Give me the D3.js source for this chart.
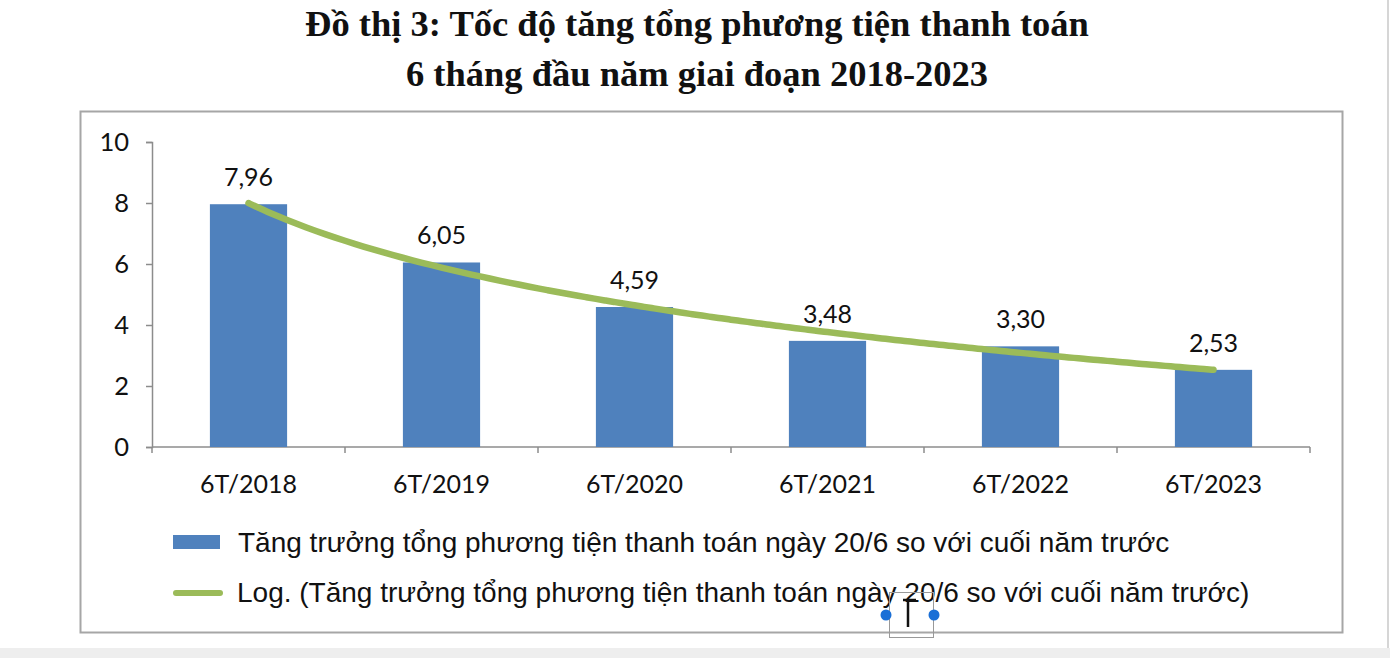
<!DOCTYPE html>
<html>
<head>
<meta charset="utf-8">
<script src="https://cdn.jsdelivr.net/npm/d3@7"></script>
<style>
  html, body { margin: 0; padding: 0; background: #fff; }
</style>
</head>
<body>
<div id="chart"></div>
<script>
// data
const categories = ["6T/2018", "6T/2019", "6T/2020", "6T/2021", "6T/2022", "6T/2023"];
const growth = [7.96, 6.05, 4.59, 3.48, 3.30, 2.53];
const yTicks = [0, 2, 4, 6, 8, 10];
const titleLines = ["Đồ thị 3: Tốc độ tăng tổng phương tiện thanh toán", "6 tháng đầu năm giai đoạn 2018-2023"];
const legendBar = "Tăng trưởng tổng phương tiện thanh toán ngày 20/6 so với cuối năm trước";
const legendLine = "Log. (Tăng trưởng tổng phương tiện thanh toán ngày 20/6 so với cuối năm trước)";

const CBAR = "#4F81BD";
const CTREND = "#9BBB59";
const CAXIS = "#8C8C8C";
const NUMFONT = "Lato, 'Open Sans', sans-serif";

const width = 1390, height = 658;
const plot = { left: 152, right: 1310, top: 142, bottom: 447 };

const svg = d3.select("#chart").append("svg")
    .attr("width", width)
    .attr("height", height)
    .attr("viewBox", [0, 0, width, height]);

// page edges
svg.append("line").attr("x1", 1388).attr("x2", 1388).attr("y1", 0).attr("y2", height)
    .attr("stroke", "#c8c8c8").attr("stroke-width", 1.5);
svg.append("rect").attr("x", 0).attr("y", 648).attr("width", width).attr("height", 10)
    .attr("fill", "#eeeeee");

// title
svg.append("g").selectAll("text")
    .data(titleLines)
    .join("text")
    .attr("x", 697)
    .attr("y", (d, i) => 36 + i * 50)
    .attr("text-anchor", "middle")
    .attr("font-family", "'Liberation Serif', 'Times New Roman', serif")
    .attr("font-weight", "bold")
    .attr("font-size", 36.5)
    .attr("fill", "#111")
    .text(d => d);

// chart box
svg.append("rect")
    .attr("x", 80.5).attr("y", 111.5)
    .attr("width", 1262).attr("height", 521)
    .attr("fill", "none")
    .attr("stroke", "#a6a6a6")
    .attr("stroke-width", 2);

// scales
const x = d3.scaleBand().domain(categories).range([plot.left, plot.right]).paddingInner(0.6).paddingOuter(0.3);
const xOuter = d3.scaleBand().domain(categories).range([plot.left, plot.right]);
const y = d3.scaleLinear().domain([0, 10]).range([plot.bottom, plot.top]);

// y axis
const yAxis = svg.append("g")
    .attr("transform", `translate(${plot.left},0)`)
    .call(d3.axisLeft(y).tickValues(yTicks).tickSize(6).tickPadding(17).tickFormat(d3.format("d")));
yAxis.select(".domain").attr("stroke", CAXIS).attr("stroke-width", 1.5);
yAxis.selectAll(".tick line").attr("stroke", CAXIS).attr("stroke-width", 1.5);
yAxis.selectAll(".tick text")
    .attr("font-family", NUMFONT)
    .attr("font-size", 25.5)
    .attr("fill", "#111");

// x axis with ticks at band boundaries
const xAxisG = svg.append("g").attr("transform", `translate(0,${plot.bottom})`);
xAxisG.append("line")
    .attr("x1", plot.left).attr("x2", plot.right)
    .attr("stroke", CAXIS).attr("stroke-width", 1.5);
const bounds = categories.map(c => xOuter(c)).concat([plot.right]);
xAxisG.selectAll(".xt")
    .data(bounds)
    .join("line")
    .attr("class", "xt")
    .attr("x1", d => d).attr("x2", d => d)
    .attr("y1", 0).attr("y2", 6)
    .attr("stroke", CAXIS).attr("stroke-width", 1.5);
xAxisG.selectAll(".xl")
    .data(categories)
    .join("text")
    .attr("class", "xl")
    .attr("x", d => xOuter(d) + xOuter.bandwidth() / 2)
    .attr("y", 46)
    .attr("text-anchor", "middle")
    .attr("font-family", NUMFONT)
    .attr("font-size", 25)
    .attr("fill", "#111")
    .text(d => d);

// bars
const data = categories.map((c, i) => ({ cat: c, value: growth[i], idx: i + 1 }));
svg.append("g")
    .selectAll("rect")
    .data(data)
    .join("rect")
    .attr("x", d => x(d.cat))
    .attr("y", d => y(d.value))
    .attr("width", x.bandwidth())
    .attr("height", d => y(0) - y(d.value))
    .attr("fill", CBAR);

// logarithmic trendline: least squares fit of value = a*ln(i) + b
const lnx = data.map(d => Math.log(d.idx));
const mx = d3.mean(lnx), my = d3.mean(growth);
const sxy = d3.sum(lnx, (v, i) => (v - mx) * (growth[i] - my));
const sxx = d3.sum(lnx, v => (v - mx) * (v - mx));
const a = sxy / sxx, b = my - a * mx;
const centerOf = t => {
    // position of fractional category index t (1-based)
    const c0 = xOuter(categories[0]) + xOuter.bandwidth() / 2;
    return c0 + (t - 1) * xOuter.step();
};
const trendPts = d3.range(1, 6.0001, 0.05).map(t => [centerOf(t), y(a * Math.log(t) + b)]);
svg.append("path")
    .datum(trendPts)
    .attr("d", d3.line().curve(d3.curveBasis))
    .attr("fill", "none")
    .attr("stroke", CTREND)
    .attr("stroke-width", 6.5)
    .attr("stroke-linecap", "round");

// data labels
svg.append("g")
    .selectAll("text")
    .data(data)
    .join("text")
    .attr("x", d => x(d.cat) + x.bandwidth() / 2)
    .attr("y", d => y(d.value) - 18)
    .attr("text-anchor", "middle")
    .attr("font-family", NUMFONT)
    .attr("font-size", 25)
    .attr("fill", "#111")
    .text(d => d3.format(".2f")(d.value).replace(".", ","));

// legend
const legend = svg.append("g").attr("font-family", "'Liberation Sans', Arial, sans-serif")
    .attr("font-size", 28).attr("fill", "#111");
legend.append("rect").attr("x", 173).attr("y", 535).attr("width", 47).attr("height", 14).attr("fill", CBAR);
legend.append("text").attr("x", 238).attr("y", 552).text(legendBar);
legend.append("line").attr("x1", 176).attr("x2", 220).attr("y1", 593).attr("y2", 593)
    .attr("stroke", CTREND).attr("stroke-width", 6).attr("stroke-linecap", "round");
legend.append("text").attr("x", 237).attr("y", 602).text(legendLine);

// selection handle artefact
const sel = svg.append("g");
sel.append("rect").attr("x", 889.5).attr("y", 592.5).attr("width", 44).attr("height", 45)
    .attr("fill", "none").attr("stroke", "#999").attr("stroke-width", 1);
sel.append("path").attr("d", "M903,600 H916 M908,600 V627").attr("stroke", "#111").attr("stroke-width", 2.5).attr("fill", "none");
sel.selectAll("circle").data([886, 934]).join("circle")
    .attr("cx", d => d).attr("cy", 615).attr("r", 5.5).attr("fill", "#1a6fd6");
</script>
</body>
</html>
